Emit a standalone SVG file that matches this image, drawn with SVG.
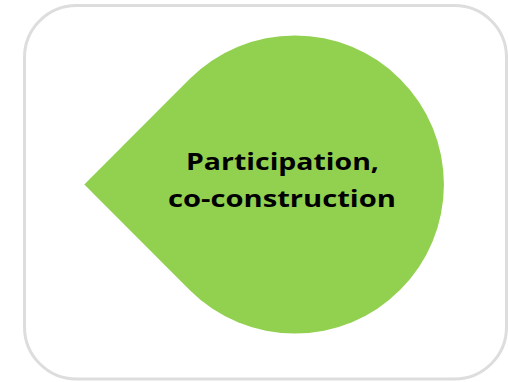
<svg xmlns="http://www.w3.org/2000/svg" width="508" height="382" viewBox="0 0 508 382">
  <style>
    .frame { fill: #ffffff; stroke: #dddddd; stroke-width: 3; }
    .drop { fill: #92d050; }
    .label { font-family: "Open Sans", "Liberation Sans", sans-serif; font-weight: 700; font-size: 23px; fill: #000000; text-anchor: middle; }
  </style>
  <rect width="508" height="382" fill="#ffffff"/>
  <g id="frame">
    <rect class="frame" x="24.5" y="5.5" width="482" height="373.5" rx="52" ry="52"/>
  </g>
  <g id="node-participation">
    <path class="drop" d="M84.3,184.5 L189.6,79.1 A149,149 0 1,1 189.6,289.9 Z"/>
    <text class="label" x="282.5" y="169.5" textLength="193" lengthAdjust="spacingAndGlyphs">Participation,</text>
    <text class="label" x="282" y="206.8" textLength="228" lengthAdjust="spacingAndGlyphs">co-construction</text>
  </g>
  <g id="connectors"></g>
</svg>
